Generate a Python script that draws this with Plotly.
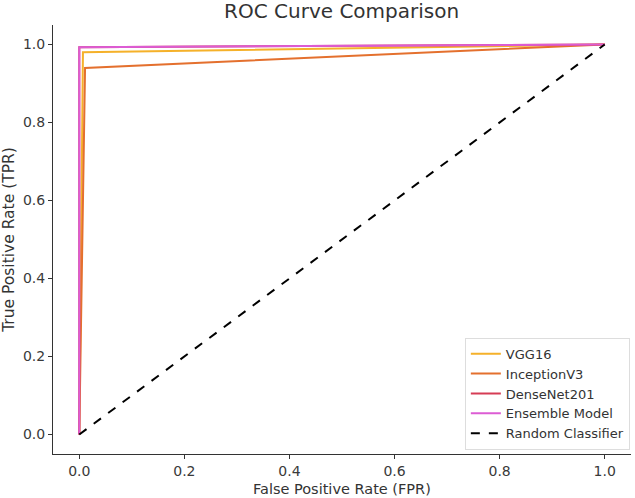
import plotly.graph_objects as go

names = ["VGG16", "InceptionV3", "DenseNet201", "Ensemble Model"]
fpr_vgg = [0.0, 0.007, 1.0]
tpr_vgg = [0.0, 0.98, 1.0]
fpr_inc = [0.0, 0.011, 1.0]
tpr_inc = [0.0, 0.94, 1.0]
fpr_dense = [0.0, 0.0, 1.0]
tpr_dense = [0.0, 0.993, 1.0]
fpr_ens = [0.0, 0.0, 1.0]
tpr_ens = [0.0, 0.993, 1.0]
rand_x = [0.0, 1.0]
rand_y = [0.0, 1.0]
colors = ["#F5B12A", "#E4702E", "#D63C55", "#DC5CD4"]

fig = go.Figure()
for n, x, y, c in zip(names, [fpr_vgg, fpr_inc, fpr_dense, fpr_ens],
                      [tpr_vgg, tpr_inc, tpr_dense, tpr_ens], colors):
    fig.add_trace(go.Scatter(x=x, y=y, mode="lines", name=n,
                             line=dict(color=c, width=2)))
fig.add_trace(go.Scatter(x=rand_x, y=rand_y, mode="lines", name="Random Classifier",
                         line=dict(color="black", width=2, dash="dash")))

axis_common = dict(
    showgrid=False, zeroline=False, showline=True, linecolor="#333333", linewidth=1,
    ticks="outside", ticklen=4, tickcolor="#333333",
    tickfont=dict(family="DejaVu Sans", size=14, color="#3a3a3a"),
    mirror=False,
)
fig.update_layout(
    width=635, height=498,
    margin=dict(l=53, r=4, t=25, b=44, autoexpand=False),
    paper_bgcolor="white", plot_bgcolor="white",
    title=dict(text="ROC Curve Comparison", x=0.538, xanchor="center", y=0.977, yanchor="middle",
               font=dict(family="DejaVu Sans", size=20, color="#333333")),
    xaxis=dict(range=[-0.05, 1.05], tickvals=[0, 0.2, 0.4, 0.6, 0.8, 1.0],
               ticktext=["0.0", "0.2", "0.4", "0.6", "0.8", "1.0"],
               **axis_common),
    yaxis=dict(range=[-0.05, 1.05], tickvals=[0, 0.2, 0.4, 0.6, 0.8, 1.0],
               ticktext=["0.0", "0.2", "0.4", "0.6", "0.8", "1.0"],
               title=dict(text="True Positive Rate (TPR)", standoff=4,
                          font=dict(family="DejaVu Sans", size=15.5, color="#333333")),
               **axis_common),
    legend=dict(x=0.998, y=0.01, xanchor="right", yanchor="bottom",
                bgcolor="rgba(255,255,255,0.8)", bordercolor="#DDDDDD", borderwidth=1,
                font=dict(family="DejaVu Sans", size=13, color="#333333"),
                tracegroupgap=0, itemwidth=30),
    showlegend=True,
)
fig.add_annotation(text="False Positive Rate (FPR)", xref="x", yref="paper",
                   x=0.5, y=0, xanchor="center", yanchor="top", yshift=-25,
                   showarrow=False,
                   font=dict(family="DejaVu Sans", size=14.5, color="#333333"))
fig.write_html("out.html")
